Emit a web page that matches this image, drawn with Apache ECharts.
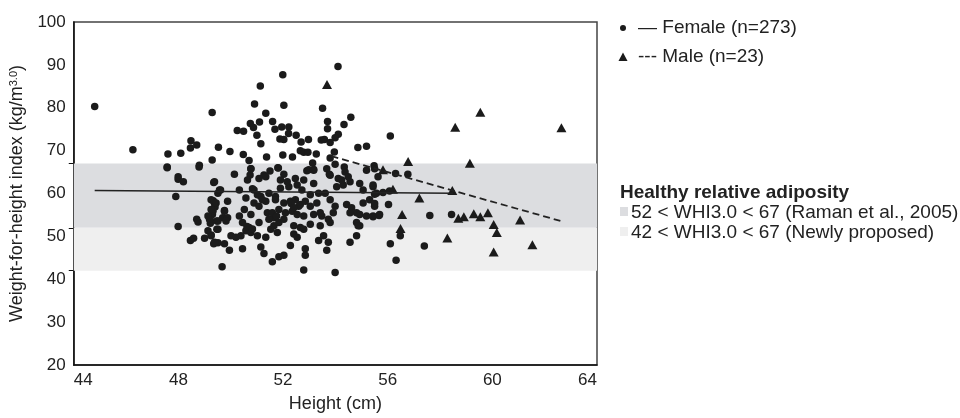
<!DOCTYPE html>
<html>
<head>
<meta charset="utf-8">
<script src="https://cdn.jsdelivr.net/npm/echarts@6/dist/echarts.min.js"></script>
<style>
html,body{margin:0;padding:0;background:#fff;}
#chart{width:960px;height:418px;}
</style>
</head>
<body>
<div id="chart"></div>
<script>
// ---- Data ----
var xTicks = [44, 48, 52, 56, 60, 64];
var yTickLabels = [20, 30, 40, 50, 60, 70, 80, 90, 100];
var yTickMarks = [42, 52, 67];
var bandRaman = [52, 67];
var bandNew = [42, 52];

var femalePoints = [
  [44.80,80.3],[46.26,70.2],[47.60,69.2],[48.09,69.4],[48.48,72.3],[48.46,70.6],[48.70,71.3],
  [49.29,78.9],[49.53,70.8],[47.57,66.2],[48.80,66.6],[49.29,67.8],[47.99,63.9],
  [54.10,89.6],[51.99,87.7],[51.13,85.1],[50.91,80.9],[52.03,80.6],[53.51,79.9],[51.34,78.7],
  [54.59,77.8],[53.70,76.8],[54.33,76.1],[51.60,76.8],[51.10,76.7],[50.75,76.3],[50.87,75.4],
  [53.70,75.1],[51.95,75.5],[52.22,75.5],[51.69,75.0],[50.25,74.7],[50.49,74.5],[52.21,74.0],
  [52.50,73.6],[51.00,73.6],[54.11,73.8],[53.99,73.0],[51.88,72.7],[52.03,72.6],[52.97,72.6],
  [53.46,72.5],[53.58,72.6],[53.80,71.9],[52.69,72.0],[51.15,71.6],[49.97,69.8],[54.86,70.7],
  [55.19,71.0],[50.48,69.1],[51.37,68.5],[51.99,69.0],[52.36,68.5],[52.66,70.0],[52.79,69.6],
  [52.95,69.6],[53.27,69.2],[53.96,69.7],[50.70,67.7],[53.13,67.1],[53.80,68.3],[53.99,66.8],
  [50.77,65.8],[51.80,66.0],[53.17,65.6],[53.67,65.8],[54.34,66.2],[55.48,66.5],[50.74,64.3],
  [51.27,64.3],[52.91,65.3],[53.77,64.5],
  [47.57,66.0],[48.79,66.2],[47.99,63.35],[48.19,62.74],[49.35,62.59],[47.90,59.31],[49.51,60.07],
  [49.61,60.84],[49.33,58.32],[49.38,57.64],[49.40,56.87],[49.76,56.04],[49.30,55.12],[49.69,54.36],
  [48.70,53.98],[48.75,53.37],[49.22,53.75],[49.47,53.6],[49.22,53.06],[49.47,51.69],[47.99,52.3],
  [49.25,50.32],[48.46,49.03],[48.58,49.56],[49.00,49.56],[49.35,48.27],[49.51,48.49],[49.67,42.93],
  [50.14,64.49],[50.77,65.79],[51.50,65.26],[51.82,65.94],[52.03,64.49],[50.64,63.12],[51.08,63.5],
  [51.34,63.88],[49.38,62.74],[52.47,63.5],[52.79,63.12],[52.98,65.56],[53.17,65.41],[53.17,62.36],
  [53.80,64.27],[54.11,63.5],[54.37,65.03],[54.56,62.74],[54.93,62.36],[55.19,65.41],[55.50,65.79],
  [55.44,61.6],[55.63,63.88],[49.57,60.84],[50.33,60.84],[50.89,60.84],[51.15,59.31],[51.34,58.17],
  [51.46,60.07],[51.71,59.31],[51.90,61.22],[52.22,61.6],[52.54,61.98],[52.72,60.84],[53.04,59.69],
  [53.36,60.07],[53.61,60.07],[54.05,61.6],[54.30,61.98],[55.06,60.84],[55.57,60.07],[49.25,58.55],
  [49.44,57.79],[49.88,58.17],[50.58,58.93],[50.89,57.79],[51.08,57.03],[51.71,58.55],[52.03,57.79],
  [52.28,58.17],[52.47,58.55],[52.66,57.41],[52.85,58.17],[53.04,57.03],[53.29,57.79],[53.80,58.55],
  [53.99,57.03],[54.43,57.41],[54.62,56.65],[54.81,55.5],[55.06,57.79],[55.31,58.55],[55.50,57.03],
  [49.32,55.88],[49.76,55.88],[49.88,54.36],[50.33,54.74],[50.52,56.27],[50.77,55.12],[51.40,55.5],
  [51.65,54.36],[51.84,56.27],[52.09,55.5],[52.35,55.88],[52.54,55.12],[52.79,54.74],[53.17,55.12],
  [53.48,54.74],[53.73,53.98],[53.92,55.5],[54.56,55.5],[54.93,55.12],[55.19,54.74],[55.44,54.74],
  [55.69,55.12],[49.19,53.98],[49.51,53.6],[49.82,53.6],[50.45,53.22],[50.70,52.07],[51.08,53.22],
  [51.46,53.98],[51.65,52.46],[51.84,53.22],[52.03,53.98],[52.41,52.46],[52.66,52.07],[52.79,51.69],
  [53.04,52.84],[53.42,52.46],[53.80,53.22],[54.81,53.22],[54.93,52.46],[49.13,51.31],[49.51,51.69],
  [50.58,51.31],[50.77,50.93],[51.02,50.17],[51.53,51.69],[51.34,49.79],[51.78,50.93],[52.41,50.55],
  [52.54,49.79],[50.39,50.17],[50.01,50.17],[50.20,49.79],[49.25,50.17],[49.38,48.65],[49.76,48.27],
  [49.95,46.74],[50.45,47.12],[51.15,47.5],[51.27,45.98],[51.59,44.07],[51.84,45.22],[52.03,45.6],
  [52.28,47.88],[52.85,47.12],[52.85,45.6],[53.36,49.03],[53.55,50.17],[53.73,48.65],[53.67,46.74],
  [54.56,48.65],[54.81,50.17],[54.87,52.46],[52.79,42.17],[53.99,41.56],
  [56.10,73.4],[56.30,64.64],[56.77,64.49],[55.44,61.98],[55.50,59.85],[55.82,60.23],[56.07,60.61],
  [55.50,57.64],[56.03,57.41],[55.67,54.89],[55.44,54.59],[57.61,54.89],[58.44,55.12],[56.48,50.17],
  [56.10,48.27],[57.40,47.73],[56.32,44.46],
  [50.83,61.1],[51.02,59.7],[51.21,58.55],[52.31,57.64],[52.60,57.03],[52.41,56.65],[50.62,52.3],
  [50.83,51.7],[51.59,55.5],[51.75,54.74],[54.24,63.12],[54.49,63.88],[51.90,63.12],[52.16,62.74],
  [53.42,55.5],[49.25,56.27],[49.13,54.74]
];

var malePoints = [
  [53.68,85.4],[59.54,78.97],[58.58,75.46],[62.64,75.31],[56.78,67.46],[59.14,67.08],[55.82,65.56],
  [56.20,60.99],[57.21,58.93],[58.47,60.68],[56.55,55.12],[58.70,54.21],[58.91,54.59],[59.29,55.27],
  [59.54,54.59],[59.83,55.5],[61.06,53.83],[60.05,52.76],[60.17,50.93],[56.49,51.85],[58.28,49.64],
  [61.53,48.04],[60.05,46.36]
];

var femaleFit = [[44.8, 60.7], [58.5, 60.05]];
var maleFit = [[53.85, 68.7], [62.6, 53.6]];

var legendFemale = '\u2014 Female (n=273)';
var legendMale = '--- Male (n=23)';
var bandTitle = 'Healthy relative adiposity';
var bandRamanLabel = '52 < WHI3.0 < 67 (Raman et al., 2005)';
var bandNewLabel = '42 < WHI3.0 < 67 (Newly proposed)';

var FONT = '"Liberation Sans", Arial, sans-serif';
var TXT = '#222';
var DARK_BAND = '#dcdde0';
var LIGHT_BAND = '#efefef';

var chart = echarts.init(document.getElementById('chart'), null, {renderer: 'canvas'});

var option = {
  backgroundColor: '#fff',
  animation: false,
  grid: {left: 68, right: 363, top: 22, bottom: 46, show: true, borderColor: '#444', borderWidth: 1.5, backgroundColor: 'transparent'},
  xAxis: {
    type: 'value', min: 44, max: 64, interval: 4,
    name: 'Height (cm)', nameLocation: 'middle', nameGap: 30,
    nameTextStyle: {fontFamily: FONT, fontSize: 18, color: TXT},
    axisLine: {show: true, lineStyle: {color: '#111', width: 1.5}},
    axisTick: {show: false},
    splitLine: {show: false},
    axisLabel: {fontFamily: FONT, fontSize: 17, color: TXT, margin: 7, alignMinLabel: 'left', alignMaxLabel: 'right'}
  },
  yAxis: {
    type: 'value', min: 20, max: 100,
    name: 'Weight-for-height index (kg/m{sup|3.0})', nameLocation: 'middle', nameGap: 35, nameRotate: 90,
    nameTextStyle: {fontFamily: FONT, fontSize: 18, color: TXT,
      rich: {sup: {fontFamily: FONT, fontSize: 11, color: TXT, verticalAlign: 'top', padding: [0, 0, 8, 0]}}},
    axisLine: {show: true, lineStyle: {color: '#111', width: 1.5}},
    axisTick: {show: true, customValues: yTickMarks, length: 5, lineStyle: {color: '#111', width: 1}},
    splitLine: {show: false},
    axisLabel: {fontFamily: FONT, fontSize: 17, color: TXT, margin: 8, customValues: yTickLabels}
  },
  series: [
    {
      type: 'line', data: [], silent: true,
      markArea: {
        silent: true,
        data: [
          [{yAxis: bandRaman[0], itemStyle: {color: DARK_BAND}}, {yAxis: bandRaman[1]}],
          [{yAxis: bandNew[0], itemStyle: {color: LIGHT_BAND}}, {yAxis: bandNew[1]}]
        ]
      },
      z: 0
    },
    {
      type: 'scatter', data: femalePoints, symbol: 'circle', symbolSize: 7.5,
      itemStyle: {color: '#1b1b1b', opacity: 1}, z: 3
    },
    {
      type: 'scatter', data: malePoints, symbol: 'triangle', symbolSize: [10, 9],
      itemStyle: {color: '#1b1b1b', opacity: 1}, z: 3
    },
    {
      type: 'line', data: femaleFit, symbol: 'none',
      lineStyle: {color: '#222', width: 1.6, type: 'solid'}, z: 4
    },
    {
      type: 'line', data: maleFit, symbol: 'none',
      lineStyle: {color: '#222', width: 1.8, type: [7, 4]}, z: 4
    }
  ],
  graphic: [
    {type: 'circle', shape: {cx: 623, cy: 28, r: 3}, style: {fill: '#1b1b1b'}},
    {type: 'text', x: 638, y: 28, style: {text: legendFemale, fontFamily: FONT, fontSize: 19, fill: TXT, textVerticalAlign: 'middle'}},
    {type: 'polygon', shape: {points: [[623, 52.5], [627.5, 61], [618.5, 61]]}, style: {fill: '#1b1b1b'}},
    {type: 'text', x: 638, y: 57, style: {text: legendMale, fontFamily: FONT, fontSize: 19, fill: TXT, textVerticalAlign: 'middle'}},
    {type: 'text', x: 620, y: 193, style: {text: bandTitle, fontFamily: FONT, fontSize: 19, fontWeight: 'bold', fill: TXT, textVerticalAlign: 'middle'}},
    {type: 'rect', shape: {x: 620, y: 207, width: 8, height: 9}, style: {fill: DARK_BAND}},
    {type: 'text', x: 631, y: 213, style: {text: bandRamanLabel, fontFamily: FONT, fontSize: 19, fill: TXT, textVerticalAlign: 'middle'}},
    {type: 'rect', shape: {x: 620, y: 227, width: 8, height: 9}, style: {fill: LIGHT_BAND}},
    {type: 'text', x: 631, y: 233, style: {text: bandNewLabel, fontFamily: FONT, fontSize: 19, fill: TXT, textVerticalAlign: 'middle'}}
  ]
};

chart.setOption(option);
</script>
</body>
</html>
